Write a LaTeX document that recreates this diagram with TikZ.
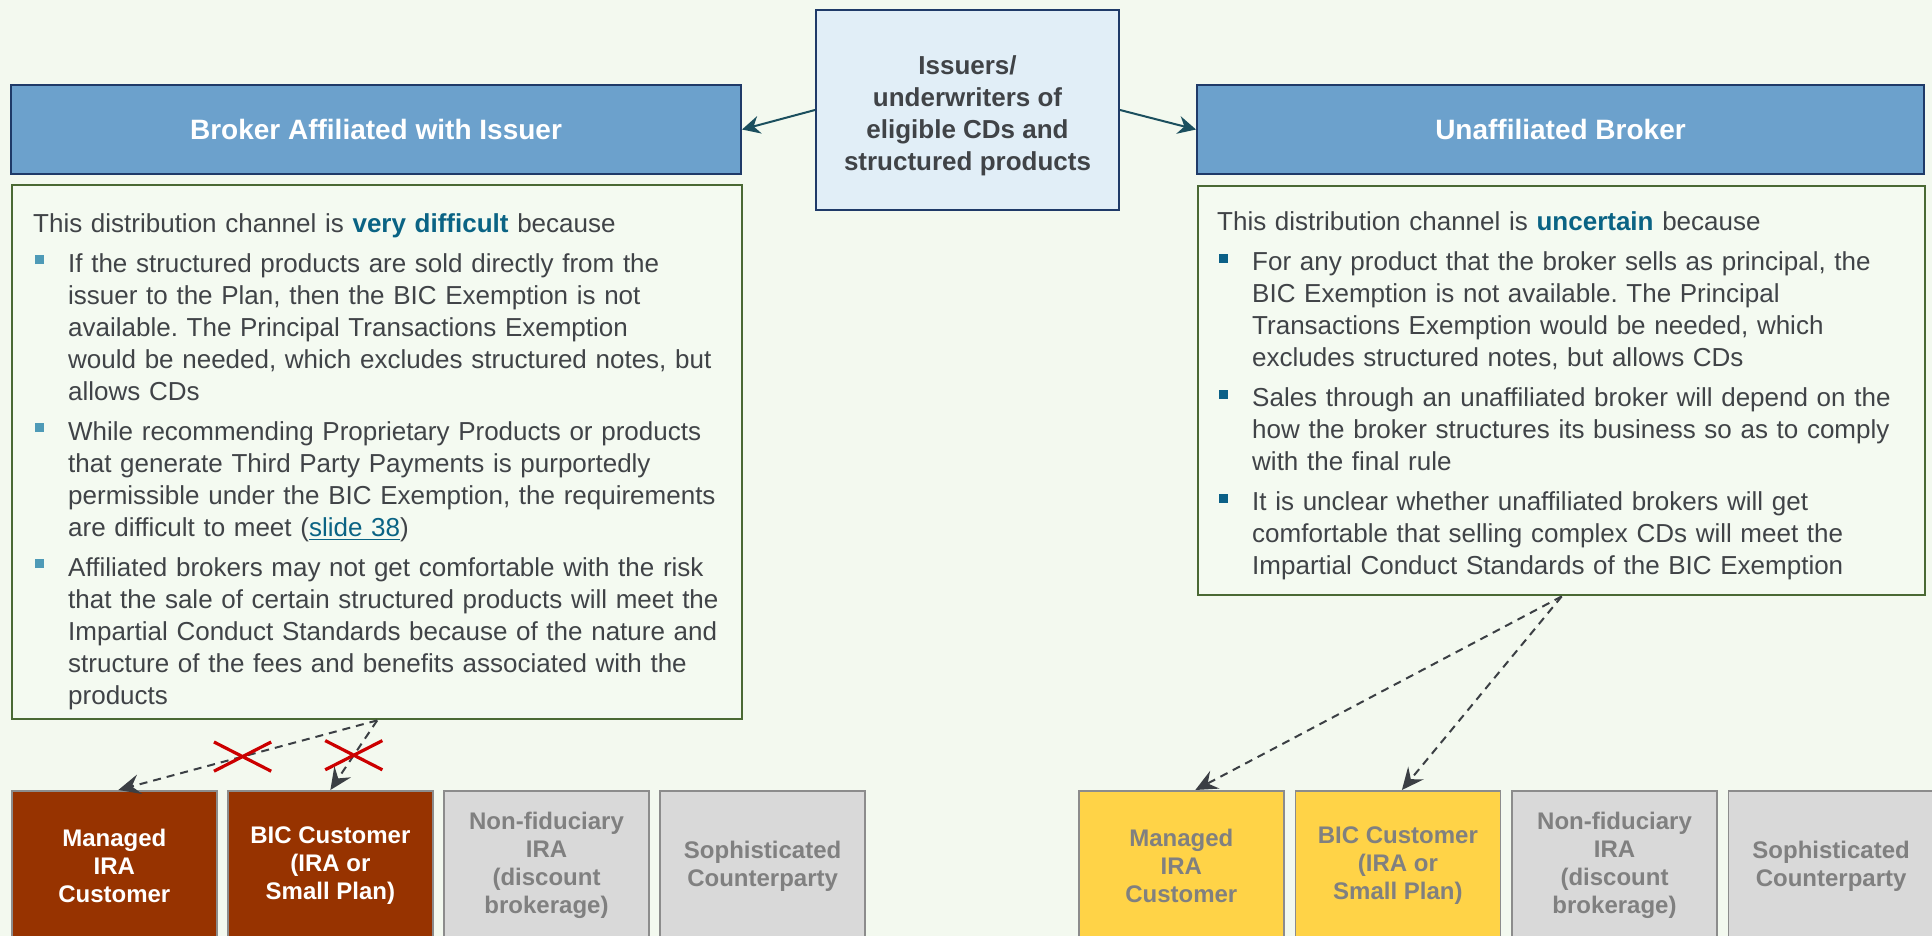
\documentclass[tikz,border=0pt]{standalone}
\usepackage{fontspec}
\setmainfont{Liberation Sans}
\usepackage{tikz}
\usetikzlibrary{arrows.meta,positioning,shapes.misc}
\frenchspacing
\definecolor{bgc}{HTML}{F3F9EF}
\definecolor{boxfill}{HTML}{F4FAF1}
\definecolor{navy}{HTML}{1F3A68}
\definecolor{hdrfill}{HTML}{6CA1CC}
\definecolor{issfill}{HTML}{E1EEF7}
\definecolor{boxline}{HTML}{4A6934}
\definecolor{txt}{HTML}{404347}
\definecolor{hlc}{HTML}{0A6384}
\definecolor{bulL}{HTML}{4E9AB7}
\definecolor{bulR}{HTML}{0B6087}
\definecolor{brick}{HTML}{973300}
\definecolor{gold}{HTML}{FFD347}
\definecolor{greyfill}{HTML}{D9D9D9}
\definecolor{greytxt}{HTML}{808080}
\definecolor{greyline}{HTML}{8C8C8C}
\definecolor{flowc}{HTML}{1B4F5E}
\definecolor{dashc}{HTML}{3B3F44}
\definecolor{nogoc}{HTML}{CC0000}
\newcommand{\hl}[1]{\textcolor{hlc}{\textbf{#1}}}
\newcommand{\slidelink}[1]{\textcolor{hlc}{\underline{#1}}}
\newcommand{\bitem}[2]{\par\vspace{4pt}\hangindent=17.5pt\hangafter=1\noindent\makebox[17.5pt][l]{\hspace{1pt}\textcolor{#1}{\rule[4pt]{4.5pt}{4.5pt}}}#2\par}
\tikzset{
  issuer/.style={draw=navy,line width=1pt,fill=issfill,text=txt,align=center,font=\bfseries\fontsize{13}{16}\selectfont,minimum width=151.5pt,minimum height=100pt},
  header/.style={draw=navy,line width=1pt,fill=hdrfill,text=white,font=\bfseries\fontsize{14}{17}\selectfont,minimum height=44.5pt},
  reasons/.style={draw=boxline,line width=1.2pt,fill=boxfill,text=txt,align=left,font=\fontsize{13}{16}\selectfont,inner ysep=0pt},
  client/.style={draw=greyline,line width=0.8pt,minimum width=102.5pt,minimum height=75pt,align=center,font=\bfseries\fontsize{12}{14}\selectfont},
  direct/.style={client,fill=brick,text=white},
  maybe/.style={client,fill=gold,text=greytxt},
  other/.style={client,fill=greyfill,text=greytxt},
  flowarrow/.style={-{Stealth[length=9pt,width=9pt,inset=3pt]},line width=1pt,color=flowc},
  dasharrow/.style={-{Stealth[length=11pt,width=10pt,inset=4pt]},line width=1pt,color=dashc,dash pattern=on 4pt off 3pt},
  nogo/.style={cross out,draw=nogoc,solid,line width=1.6pt,inner sep=0pt,minimum width=27pt,minimum height=13pt}
}
\begin{document}
\begin{tikzpicture}[x=0.5pt,y=-0.5pt]
  \useasboundingbox (0,0) rectangle (1932,936);
  \fill[bgc] (0,0) rectangle (1932,936);

  \node[issuer] (iss) at (967.5,110) {\rule{0pt}{15pt}Issuers/\\underwriters of\\eligible CDs and\\structured products};
  \node[header, minimum width=365pt] (hdrL) at (376,129.5) {Broker Affiliated with Issuer};
  \node[header, minimum width=363.5pt] (hdrR) at (1560.5,129.5) {Unaffiliated Broker};

  \node[reasons, anchor=north west, text width=344pt, inner xsep=10.5pt, minimum height=267pt] (tbL) at (11,184) {%
    \rule{0pt}{18.5pt}This distribution channel is \hl{very difficult} because
    \bitem{bulL}{If the structured products are sold directly from the\newline issuer to the Plan, then the BIC Exemption is not\newline available. The Principal Transactions Exemption\newline would be needed, which excludes structured notes, but\newline allows CDs}
    \bitem{bulL}{While recommending Proprietary Products or products\newline that generate Third Party Payments is purportedly\newline permissible under the BIC Exemption, the requirements\newline are difficult to meet (\slidelink{slide 38})}
    \bitem{bulL}{Affiliated brokers may not get comfortable with the risk\newline that the sale of certain structured products will meet the\newline Impartial Conduct Standards because of the nature and\newline structure of the fees and benefits associated with the\newline products}};
  \node[reasons, anchor=north west, text width=344.5pt, inner xsep=9.5pt, minimum height=204.5pt] (tbR) at (1197,185) {%
    \rule{0pt}{14.5pt}This distribution channel is \hl{uncertain} because
    \bitem{bulR}{For any product that the broker sells as principal, the\newline BIC Exemption is not available. The Principal\newline Transactions Exemption would be needed, which\newline excludes structured notes, but allows CDs}
    \bitem{bulR}{Sales through an unaffiliated broker will depend on the\newline how the broker structures its business so as to comply\newline with the final rule}
    \bitem{bulR}{It is unclear whether unaffiliated brokers will get\newline comfortable that selling complex CDs will meet the\newline Impartial Conduct Standards of the BIC Exemption}};

  \node[direct, anchor=north west] (mL) at (11,790) {Managed\\IRA\\Customer};
  \node[direct, right=4.75pt of mL] (bL) {BIC Customer\\(IRA or\\Small Plan)};
  \node[other, right=4.75pt of bL] (nL) {Non-fiduciary\\IRA\\(discount\\brokerage)};
  \node[other, right=4.75pt of nL] (sL) {Sophisticated\\Counterparty};

  \node[maybe, anchor=north west] (mR) at (1078,790) {Managed\\IRA\\Customer};
  \node[maybe, right=5pt of mR] (bR) {BIC Customer\\(IRA or\\Small Plan)};
  \node[other, right=5pt of bR] (nR) {Non-fiduciary\\IRA\\(discount\\brokerage)};
  \node[other, right=5pt of nR] (sR) {Sophisticated\\Counterparty};

  \draw[flowarrow] (iss.west) -- (hdrL.east);
  \draw[flowarrow] (iss.east) -- (hdrR.west);

  \draw[dasharrow] (tbL.south) -- ([xshift=2pt]mL.north) node[nogo, pos=0.52] (xM) {};
  \draw[dasharrow] (tbL.south) -- (bL.north) node[nogo, pos=0.5] (xB) {};
  \draw[dasharrow] (tbR.south) -- ([xshift=7pt]mR.north);
  \draw[dasharrow] (tbR.south) -- ([xshift=2pt]bR.north);
\end{tikzpicture}
\end{document}
